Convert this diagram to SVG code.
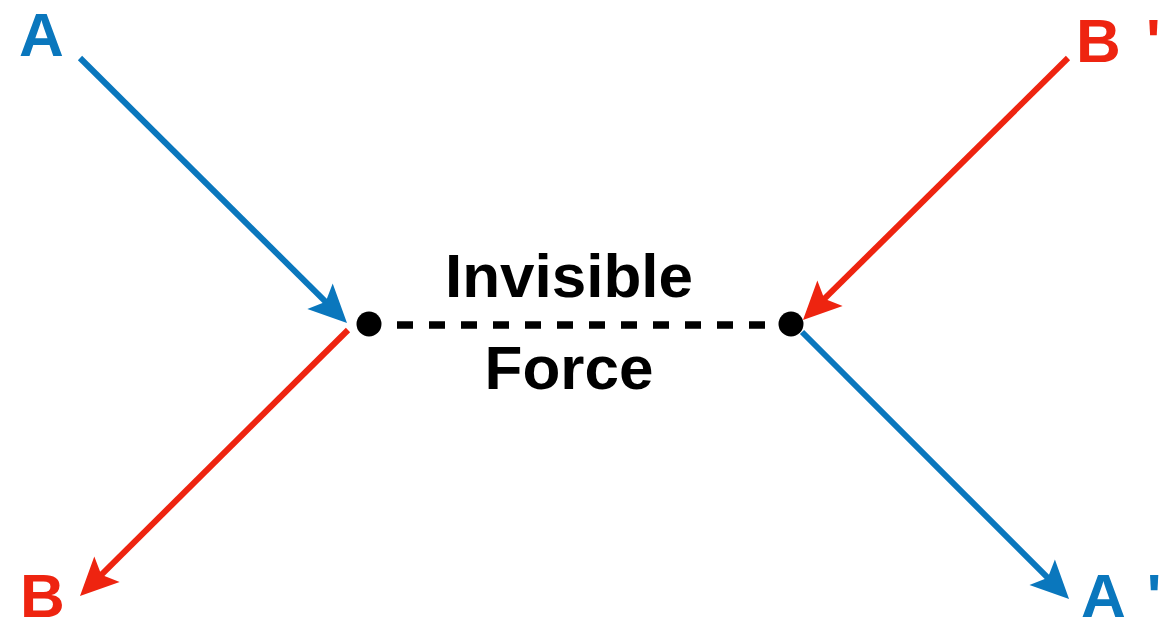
<svg xmlns="http://www.w3.org/2000/svg" width="1162" height="630" viewBox="0 0 1162 630">
  <style>
    .lbl { font-family: "Liberation Sans", Arial, sans-serif; font-weight: bold; font-size: 62px; }
    .blue { fill: #0a77bd; }
    .red { fill: #ee2410; }
    .black { fill: #000000; }
    .ln { fill: none; stroke-width: 6; stroke-linecap: butt; }
    .lnblue { stroke: #0a77bd; }
    .lnred { stroke: #ee2410; }
    .dash { fill: none; stroke: #000000; stroke-width: 7.5; stroke-dasharray: 16 16; }
  </style>
  <defs>
    <marker id="arrowBlue" markerUnits="userSpaceOnUse" markerWidth="44" markerHeight="44" refX="18" refY="0" orient="auto" overflow="visible">
      <path d="M0,-18 L38,0 L0,18 L8,0 Z" fill="#0a77bd"/>
    </marker>
    <marker id="arrowRed" markerUnits="userSpaceOnUse" markerWidth="44" markerHeight="44" refX="18" refY="0" orient="auto" overflow="visible">
      <path d="M0,-18 L38,0 L0,18 L8,0 Z" fill="#ee2410"/>
    </marker>
  </defs>
  <rect width="1162" height="630" fill="#ffffff"/>

  <g id="connectors">
    <line class="ln lnblue" x1="80" y1="58" x2="332.8" y2="308.9" marker-end="url(#arrowBlue)"/>
    <line class="ln lnred" x1="1068" y1="58" x2="817.2" y2="305.9" marker-end="url(#arrowRed)"/>
    <line class="ln lnred" x1="348" y1="330" x2="94.2" y2="581.9" marker-end="url(#arrowRed)"/>
    <line class="ln lnblue" x1="802" y1="332" x2="1054.9" y2="584.9" marker-end="url(#arrowBlue)"/>
    <line class="dash" x1="397" y1="325" x2="766" y2="325"/>
  </g>

  <g id="node-A">
    <text class="lbl blue" x="19" y="56">A</text>
  </g>
  <g id="node-Bprime">
    <text class="lbl red" x="1076" y="62" xml:space="preserve">B <tspan dx="8">'</tspan></text>
  </g>
  <g id="node-B">
    <text class="lbl red" x="20" y="617">B</text>
  </g>
  <g id="node-Aprime">
    <text class="lbl blue" x="1081" y="617" xml:space="preserve">A <tspan dx="6">'</tspan></text>
  </g>
  <g id="node-left-dot">
    <circle class="black" cx="369" cy="324" r="12.5"/>
  </g>
  <g id="node-right-dot">
    <circle class="black" cx="791" cy="324" r="12.5"/>
  </g>
  <g id="label-force">
    <text class="lbl black" x="569" y="297" text-anchor="middle">Invisible</text>
    <text class="lbl black" x="569" y="389" text-anchor="middle">Force</text>
  </g>
</svg>
